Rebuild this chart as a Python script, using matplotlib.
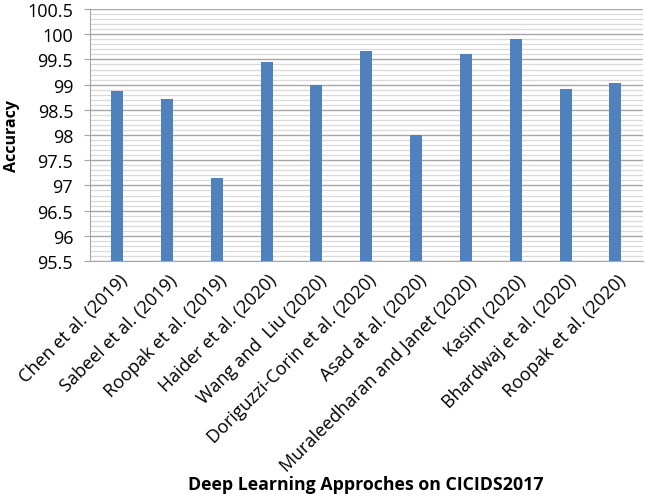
import numpy as np
import matplotlib.pyplot as plt
import matplotlib.transforms as mtransforms
from matplotlib.ticker import MultipleLocator

methods = [
    "Chen et al. (2019)",
    "Sabeel et al. (2019)",
    "Roopak et al. (2019)",
    "Haider et al. (2020)",
    "Wang and  Liu (2020)",
    "Doriguzzi-Corin et al. (2020)",
    "Asad at al. (2020)",
    "Muraleedharan and Janet (2020)",
    "Kasim (2020)",
    "Bhardwaj et al. (2020)",
    "Roopak et al. (2020)",
]
accuracy = [98.87, 98.72, 97.15, 99.44, 99.0, 99.67, 98.0, 99.61, 99.9, 98.92, 99.03]

plt.rcParams["font.family"] = ["Open Sans", "DejaVu Sans"]

fig = plt.figure(figsize=(6.46, 5.02), dpi=100)
ax = fig.add_axes([0.139, 0.478, 0.856, 0.502])

x = np.arange(len(methods))
ax.bar(x, accuracy, width=0.24, color="#4F81BD", zorder=3)

ax.set_ylim(95.5, 100.5)
ax.set_xlim(-0.55, len(methods) - 0.45)
ax.yaxis.set_major_locator(MultipleLocator(0.5))
ax.yaxis.set_minor_locator(MultipleLocator(0.1))
ax.yaxis.set_major_formatter(plt.FuncFormatter(lambda v, p: f"{v:g}"))

ax.grid(axis="y", which="major", color="#A6A6A6", linewidth=1.0, zorder=0)
ax.grid(axis="y", which="minor", color="#D9D9D9", linewidth=0.9, zorder=0)

for s in ["top", "right"]:
    ax.spines[s].set_visible(False)
ax.spines["left"].set_color("#A6A6A6")
ax.spines["bottom"].set_color("#A6A6A6")

ax.tick_params(axis="y", which="major", length=4, color="#A6A6A6", labelsize=13, pad=8)
ax.tick_params(axis="y", which="minor", length=0)
ax.tick_params(axis="x", length=0, labelsize=13, pad=7)

ax.set_xticks(x)
ax.set_xticklabels(methods, rotation=45, ha="right")
# nudge rotated labels to the right, like the original
shift = mtransforms.ScaledTranslation(0.14, 0, fig.dpi_scale_trans)
for lbl in ax.get_xticklabels():
    lbl.set_transform(lbl.get_transform() + shift)

# axis titles placed in figure coords
fig.text(0.018, 0.729, "Accuracy", rotation=90, ha="center", va="center",
         fontsize=11.5, fontweight="bold")
fig.text(0.566, 0.034, "Deep Learning Approches on CICIDS2017",
         ha="center", va="center", fontsize=12.8, fontweight="bold")

plt.savefig("out.png", dpi=100)
